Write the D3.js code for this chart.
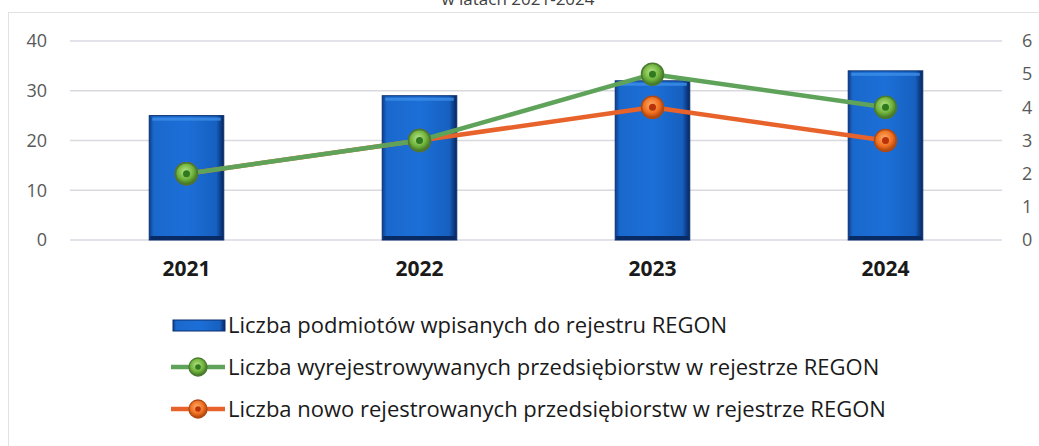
<!DOCTYPE html>
<html>
<head>
<meta charset="utf-8">
<script src="https://cdn.jsdelivr.net/npm/d3@7"></script>
<style>
  html, body { margin: 0; padding: 0; background: #fff; }
  svg { display: block; font-family: "Open Sans", sans-serif; }
</style>
</head>
<body>
<div id="chart"></div>
<script>
// dane
const years = ["2021", "2022", "2023", "2024"];
const registered = [25, 29, 32, 34];          // słupki, lewa oś
const deregistered = [2, 3, 5, 4];            // zielona linia, prawa oś
const newlyRegistered = [2, 3, 4, 3];         // pomarańczowa linia, prawa oś
const leftTicks = [0, 10, 20, 30, 40];
const rightTicks = [0, 1, 2, 3, 4, 5, 6];
const legendLabels = [
  "Liczba podmiotów wpisanych do rejestru REGON",
  "Liczba wyrejestrowywanych przedsiębiorstw w rejestrze REGON",
  "Liczba nowo rejestrowanych przedsiębiorstw w rejestrze REGON"
];
const titleText = "w latach 2021-2024";

const width = 1039, height = 446;
const margin = { top: 41, right: 37, bottom: 206, left: 70 };
const innerW = width - margin.left - margin.right;
const innerH = height - margin.top - margin.bottom;

const svg = d3.select("#chart").append("svg")
  .attr("width", width).attr("height", height)
  .attr("viewBox", `0 0 ${width} ${height}`);

// gradienty
const defs = svg.append("defs");
const barGrad = defs.append("linearGradient").attr("id", "barGrad")
  .attr("x1", "0%").attr("x2", "100%").attr("y1", "0%").attr("y2", "0%");
[["0%", "#0b3f8f"], ["6%", "#1a68cc"], ["50%", "#1c6fd8"], ["90%", "#1660c0"], ["100%", "#06255e"]]
  .forEach(([o, c]) => barGrad.append("stop").attr("offset", o).attr("stop-color", c));

const mk = (id, light, mid, dark) => {
  const g = defs.append("radialGradient").attr("id", id)
    .attr("cx", "45%").attr("cy", "40%").attr("r", "60%");
  g.append("stop").attr("offset", "0%").attr("stop-color", light);
  g.append("stop").attr("offset", "60%").attr("stop-color", mid);
  g.append("stop").attr("offset", "100%").attr("stop-color", dark);
};
mk("greenDot", "#b9e58a", "#6fb33c", "#3f6e25");
mk("orangeDot", "#ffb070", "#f0701f", "#a8400e");

// ramka wykresu
svg.append("rect").attr("x", 8.5).attr("y", 12.5)
  .attr("width", 1040).attr("height", 450)
  .attr("fill", "none").attr("stroke", "#e2e2e2");

// tytuł (obcięty u góry, jak w oryginale)
svg.append("text").attr("x", 518).attr("y", 5)
  .attr("text-anchor", "middle").attr("font-size", 17).attr("fill", "#404040")
  .text(titleText);

const g = svg.append("g").attr("transform", `translate(${margin.left},${margin.top})`);

const x = d3.scaleBand().domain(years).range([0, innerW]).paddingInner(0.68).paddingOuter(0.34);
const yL = d3.scaleLinear().domain([0, 40]).range([innerH, 0]);
const yR = d3.scaleLinear().domain([0, 6]).range([innerH, 0]);
const cx = d => x(d) + x.bandwidth() / 2;

// siatka
g.selectAll(".grid").data(leftTicks).join("line")
  .attr("x1", 0).attr("x2", innerW)
  .attr("y1", d => yL(d)).attr("y2", d => yL(d))
  .attr("stroke", "#d9d9e0").attr("stroke-width", 1.3);

// osie
const axL = g.append("g").call(d3.axisLeft(yL).tickValues(leftTicks).tickSize(0).tickPadding(23));
axL.select(".domain").remove();
axL.selectAll("text").attr("font-size", 18).attr("fill", "#595959").attr("font-family", "Open Sans, sans-serif");

const axR = g.append("g").attr("transform", `translate(${innerW},0)`)
  .call(d3.axisRight(yR).tickValues(rightTicks).tickFormat(d3.format("d")).tickSize(0).tickPadding(20));
axR.select(".domain").remove();
axR.selectAll("text").attr("font-size", 18).attr("fill", "#595959").attr("font-family", "Open Sans, sans-serif");

const axB = g.append("g").attr("transform", `translate(0,${innerH})`)
  .call(d3.axisBottom(x).tickSize(0).tickPadding(21));
axB.select(".domain").remove();
axB.selectAll("text").attr("font-size", 21).attr("font-weight", "bold").attr("fill", "#1a1a1a")
  .attr("font-family", "Open Sans, sans-serif");

// słupki
const bars = g.selectAll(".bar").data(years).join("g");
bars.append("rect")
  .attr("x", d => x(d)).attr("width", x.bandwidth())
  .attr("y", (d, i) => yL(registered[i])).attr("height", (d, i) => innerH - yL(registered[i]))
  .attr("fill", "url(#barGrad)").attr("stroke", "#0a2f6e").attr("stroke-width", 1);
bars.append("rect")
  .attr("x", d => x(d) + 3).attr("width", x.bandwidth() - 6)
  .attr("y", (d, i) => yL(registered[i]) + 2).attr("height", 3)
  .attr("fill", "#3d8fe6").attr("opacity", 0.8);
bars.append("rect")
  .attr("x", d => x(d) + 1).attr("width", x.bandwidth() - 2)
  .attr("y", innerH - 4).attr("height", 4)
  .attr("fill", "#082b66");

// linie
const series = [
  { vals: newlyRegistered, color: "#e8632b", dot: "url(#orangeDot)", rim: "#b04a14", center: "#b8320a" },
  { vals: deregistered, color: "#5fa35a", dot: "url(#greenDot)", rim: "#4a7a30", center: "#2f7a1e" }
];
const line = d3.line().x(d => cx(d.year)).y(d => yR(d.v));

series.forEach(s => {
  const pts = years.map((yr, i) => ({ year: yr, v: s.vals[i] }));
  g.append("path").datum(pts).attr("d", line)
    .attr("fill", "none").attr("stroke", s.color).attr("stroke-width", 4.5)
    .attr("stroke-linejoin", "round");
  const dots = g.selectAll(null).data(pts).join("g")
    .attr("transform", d => `translate(${cx(d.year)},${yR(d.v)})`);
  dots.append("circle").attr("r", 11).attr("fill", s.dot).attr("stroke", s.rim).attr("stroke-width", 1.5);
  dots.append("circle").attr("r", 3.5).attr("fill", s.center);
});

// legenda
const leg = svg.append("g");
const legX = 173, legText = 228, legY = [325, 367, 409];
leg.append("rect").attr("x", legX).attr("y", legY[0] - 5).attr("width", 52).attr("height", 11)
  .attr("fill", "url(#barGrad)").attr("stroke", "#0a2f6e");
[series[1], series[0]].forEach((s, i) => {
  const yy = legY[i + 1];
  leg.append("line").attr("x1", legX - 2).attr("x2", legX + 52).attr("y1", yy).attr("y2", yy)
    .attr("stroke", s.color).attr("stroke-width", 4.5);
  leg.append("circle").attr("cx", legX + 25).attr("cy", yy).attr("r", 9)
    .attr("fill", s.dot).attr("stroke", s.rim).attr("stroke-width", 1.3);
  leg.append("circle").attr("cx", legX + 25).attr("cy", yy).attr("r", 2.8).attr("fill", s.center);
});
legendLabels.forEach((t, i) => {
  leg.append("text").attr("x", legText).attr("y", legY[i]).attr("dy", "0.35em")
    .attr("font-size", 22).attr("fill", "#1a1a1a").attr("font-family", "Open Sans, sans-serif")
    .text(t);
});
</script>
</body>
</html>
